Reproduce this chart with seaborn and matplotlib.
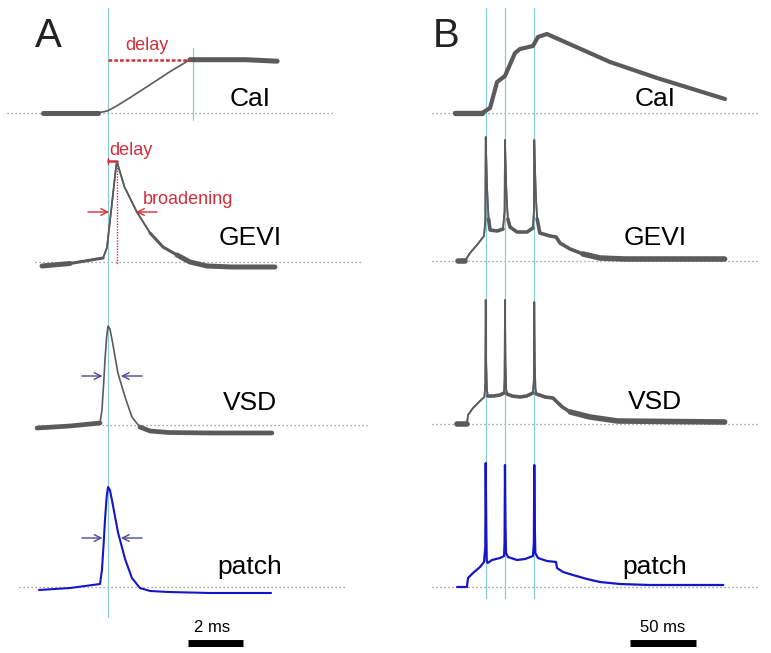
import numpy as np
import pandas as pd
import matplotlib
matplotlib.use("Agg")
import matplotlib.pyplot as plt
import seaborn as sns

sns.set_style("white")
plt.rcParams['font.family'] = ['Liberation Sans', 'DejaVu Sans']
plt.rcParams['text.color'] = 'black'

# ---------------- data (time in ms, amplitude in a.u. above baseline) ----------------
# Panel A: single action potential
A_cal_t   = [-2.36, -0.36, -0.15, 0.0, 0.33, 0.8, 1.53, 2.25, 2.8, 2.98, 5.0, 6.15]
A_cal_v   = [0, 0, 1, 2, 7, 15, 28, 41, 50, 53, 53, 51.5]
A_gevi_t  = [-2.4, -1.38, -0.18, -0.04, 0.15, 0.3, 0.33, 0.36, 0.6, 1.05, 1.53, 2.0, 2.51, 2.98, 3.6, 4.5, 6.07]
A_gevi_v  = [-4, -1.5, 4, 14, 60, 97, 100, 97, 75, 50, 29, 15, 7, 0, -4, -5, -5]
A_vsd_t   = [-2.58, -1.38, -0.29, -0.22, -0.15, -0.11, -0.05, 0.0, 0.07, 0.15, 0.36, 0.62, 0.87, 1.16, 1.53, 2.2, 3.71, 5.96]
A_vsd_v   = [-3, -1, 2, 15, 45, 65, 88, 99, 96, 85, 52, 28, 8, -2, -6, -7.5, -8, -8]
A_patch_t = [-2.51, -1.38, -0.29, -0.22, -0.15, -0.11, -0.05, 0.0, 0.07, 0.15, 0.36, 0.62, 0.87, 1.16, 1.53, 2.2, 3.71, 5.93]
A_patch_v = [-3, -1, 3, 17, 47, 67, 90, 100, 97, 86, 55, 28, 9, -1, -4, -5, -6, -6]

# Panel B: burst of three spikes
B_spikes  = [0.0, 14.6, 36.8]
B_cal_t   = [-23.3, -2.8, 3.3, 8.6, 14.6, 22.2, 26.0, 35.8, 39.6, 46.4, 94.2, 129.8, 181.3]
B_cal_v   = [0, 0, 5, 31, 37, 60, 64, 67, 76, 79, 51, 35, 14]
B_gevi_t  = [-21, -15.7, -11.9, -6.6, -1.3, -0.3, 0.0, 0.5, 1.0, 1.5, 2.2, 3.3, 8.6, 13.1, 14.3, 14.6, 15.1,
             15.6, 16.1, 16.8, 18.4, 23.7, 31.3, 35.8, 36.5, 36.8, 37.3, 37.8, 38.3, 39.0, 41.0, 48.7, 53.3,
             56.3, 63.9, 73.7, 86.6, 105, 181]
B_gevi_v  = [0, 0, 8, 16, 25, 40, 124, 100, 75, 60, 42, 31, 30, 32, 50, 121, 97, 73, 58, 42, 34, 29, 29, 33,
             50, 121, 97, 73, 58, 42, 28, 25, 24, 18, 12, 7, 3, 2, 2]
B_vsd_t   = [-21.8, -14.2, -13.4, -9.6, -4.3, -1.0, -0.3, 0.0, 0.4, 0.9, 1.6, 6, 10.8, 13.9, 14.3, 14.6, 15.0,
             15.5, 16.2, 20, 26, 31, 35.8, 36.5, 36.8, 37.2, 37.7, 38.5, 45, 51, 54, 58, 64, 79, 100, 181]
B_vsd_v   = [0, 0, 9, 16, 23, 27, 40, 124, 60, 35, 28, 28, 29, 31, 45, 124, 60, 35, 30, 28, 27, 28, 31, 45, 122,
             60, 35, 30, 27, 26, 22, 17, 12, 7, 3, 2]
B_patch_t = [-21.7, -14.2, -13.4, -9.6, -4.3, -1.3, -0.3, 0.0, 0.4, 0.8, 1.5, 4.8, 10.8, 13.9, 14.3, 14.6,
             15.0, 15.4, 16.9, 23.7, 29.8, 35.8, 36.5, 36.8, 37.2, 37.6, 39.6, 46.4, 53.3, 54.0, 58.6, 66.1,
             76.7, 86.6, 101.7, 124, 180]
B_patch_v = [0, 0, 9, 14, 20, 25, 40, 124, 60, 26, 24, 27, 29, 31, 45, 122, 60, 34, 30, 27, 28, 31, 45, 122,
             60, 34, 29, 26, 25, 19, 15, 12, 8, 5, 3, 2, 2]

row_labels = ["CaI", "GEVI", "VSD", "patch"]
scale_A_ms = 2
scale_B_ms = 50

# annotation values (panel A)
cal_delay_end = 2.98      # ms, end of Ca delay
cal_delay_amp = 53
gevi_peak_t   = 0.33
gevi_peak_amp = 100
broad_amp     = 50

# ---------------- layout ----------------
W, H = 771, 653
fig = plt.figure(figsize=(W / 100, H / 100), dpi=100)
splitx = 390
axA = fig.add_axes([0, 0, splitx / W, 1])
axB = fig.add_axes([splitx / W, 0, (W - splitx) / W, 1])

A_t0, A_pxms = 108.0, 27.5
B_t0, B_pxms = 485.7, 1.32
axA.set_xlim((0 - A_t0) / A_pxms, (splitx - A_t0) / A_pxms)
axB.set_xlim((splitx - B_t0) / B_pxms, (W - B_t0) / B_pxms)
for ax in (axA, axB):
    ax.set_ylim(H, 0)
    ax.axis("off")

baseA = [112.7, 262, 425, 587]
baseB = [113, 261, 424, 587]

gray = "#5b5b5b"
blue = "#1616c8"
cyan = "#8ccbda"
red = "#d0303a"
slate = "#4a4a90"
dotc = "#8a8a8a"


def trace(ax, t, v, base, color, lw_thin, thick=(), lw_thick=None, z=3):
    t = np.asarray(t, float)
    y = base - np.asarray(v, float)
    df = pd.DataFrame({"t": t, "y": y})
    sns.lineplot(data=df, x="t", y="y", ax=ax, color=color, linewidth=lw_thin,
                 sort=False, estimator=None, solid_capstyle="round", solid_joinstyle="round", zorder=z)
    for (a, b) in thick:
        sub = df[(t >= a) & (t <= b)]
        sns.lineplot(data=sub, x="t", y="y", ax=ax, color=color, linewidth=lw_thick,
                     sort=False, estimator=None, solid_capstyle="round", solid_joinstyle="round", zorder=z)


def baseline(ax, base, x0px, x1px, t0, pxms):
    ax.plot([(x0px - t0) / pxms, (x1px - t0) / pxms], [base, base],
            color=dotc, lw=0.9, ls=(0, (1, 2.2)), zorder=0)

for b, (x0, x1) in zip(baseA, [(7, 333), (35, 362), (38, 367), (19, 347)]):
    baseline(axA, b, x0, x1, A_t0, A_pxms)
for b in baseB:
    baseline(axB, b, 432, 758, B_t0, B_pxms)

# cyan guide lines
axA.plot([0, 0], [8, 617], color=cyan, lw=0.9, zorder=1)
axA.plot([(193 - A_t0) / A_pxms] * 2, [48, 120], color=cyan, lw=0.9, zorder=1)
for s in B_spikes:
    axB.plot([s, s], [8, 598], color=cyan, lw=0.9, zorder=1)

# Panel A traces
trace(axA, A_cal_t, A_cal_v, baseA[0], gray, 1.2, [(-2.36, -0.36), (2.98, 6.15)], 3.6)
trace(axA, A_gevi_t, A_gevi_v, baseA[1], gray, 1.2, [(-2.4, -0.18), (1.53, 6.07)], 2.2)
trace(axA, A_gevi_t, A_gevi_v, baseA[1], gray, 1.2, [(-2.4, -1.38), (2.51, 6.07)], 3.6)
trace(axA, A_vsd_t, A_vsd_v, baseA[2], gray, 1.2, [(-2.58, -0.29), (1.16, 5.96)], 3.4)
trace(axA, A_patch_t, A_patch_v, baseA[3], blue, 1.5)

# Panel B traces
trace(axB, B_cal_t, B_cal_v, baseB[0], gray, 3.0, [(-23.3, -2.8)], 3.8)
trace(axB, B_gevi_t, B_gevi_v, baseB[1], gray, 1.2,
      [(-21, -15.7), (2.2, 13.1), (16.8, 35.8), (39.0, 181)], 2.6)
trace(axB, B_gevi_t, B_gevi_v, baseB[1], gray, 1.2, [(-21, -15.7), (73.7, 181)], 4.0)
trace(axB, B_vsd_t, B_vsd_v, baseB[2], gray, 1.2,
      [(-21.8, -14.2), (1.6, 13.9), (16.2, 35.8), (38.5, 181)], 2.6)
trace(axB, B_vsd_t, B_vsd_v, baseB[2], gray, 1.2, [(-21.8, -14.2), (64, 181)], 4.0)
trace(axB, B_patch_t, B_patch_v, baseB[3], blue, 1.6)

# Panel A annotations
axA.plot([0, cal_delay_end], [baseA[0] - cal_delay_amp] * 2, color=red, lw=1.8, ls=(0, (1.5, 0.8)), zorder=4)
axA.plot([0, gevi_peak_t], [baseA[1] - gevi_peak_amp - 1] * 2, color=red, lw=1.8, zorder=4)
axA.plot([0, 0], [baseA[1] - gevi_peak_amp - 4, baseA[1] - gevi_peak_amp + 2], color=red, lw=1.0, zorder=4)
axA.plot([gevi_peak_t] * 2, [baseA[1] - gevi_peak_amp, baseA[1] + 3], color=red, lw=1.0,
         ls=(0, (1, 1)), zorder=2)


def arrows(ax, base, amp, color, l0, l1, r0, r1):
    y = base - amp
    kw = dict(arrowstyle="->", color=color, lw=1.0, mutation_scale=12, shrinkA=0, shrinkB=0)
    ax.annotate("", xy=(l1, y), xytext=(l0, y), arrowprops=kw)
    ax.annotate("", xy=(r1, y), xytext=(r0, y), arrowprops=kw)

arrows(axA, baseA[1], broad_amp, red, -0.73, 0.04, 1.78, 1.02)
arrows(axA, baseA[2], 49, slate, -0.95, -0.2, 1.24, 0.47)
arrows(axA, baseA[3], 49, slate, -0.95, -0.2, 1.24, 0.47)

# scale bars
barA0 = (188 - A_t0) / A_pxms
axA.plot([barA0, barA0 + scale_A_ms], [643, 643], color="black", lw=5, solid_capstyle="butt")
barB0 = (630 - B_t0) / B_pxms
axB.plot([barB0, barB0 + scale_B_ms], [643, 643], color="black", lw=5, solid_capstyle="butt")


def ftext(px, py, s, **kw):
    fig.text(px / W, 1 - py / H, s, ha="center", va="center", **kw)

ftext(48, 36, "A", fontsize=29, color="#222222")
ftext(446, 36, "B", fontsize=29, color="#222222")
ftext(147, 45, "delay", fontsize=13, color=red)
ftext(131, 151, "delay", fontsize=13, color=red)
ftext(188, 200, "broadening", fontsize=13, color=red)

labA = [(250, 99), (250, 238), (250, 403), (250, 567)]
labB = [(655, 99), (655, 238), (655, 402), (655, 567)]
for lab, (x, y) in zip(row_labels, labA):
    ftext(x, y, lab, fontsize=19, color="black")
for lab, (x, y) in zip(row_labels, labB):
    ftext(x, y, lab, fontsize=19, color="black")

ftext(212, 628, f"{scale_A_ms} ms", fontsize=12, color="black")
ftext(663, 628, f"{scale_B_ms} ms", fontsize=12, color="black")

fig.savefig("out.png", dpi=100)
